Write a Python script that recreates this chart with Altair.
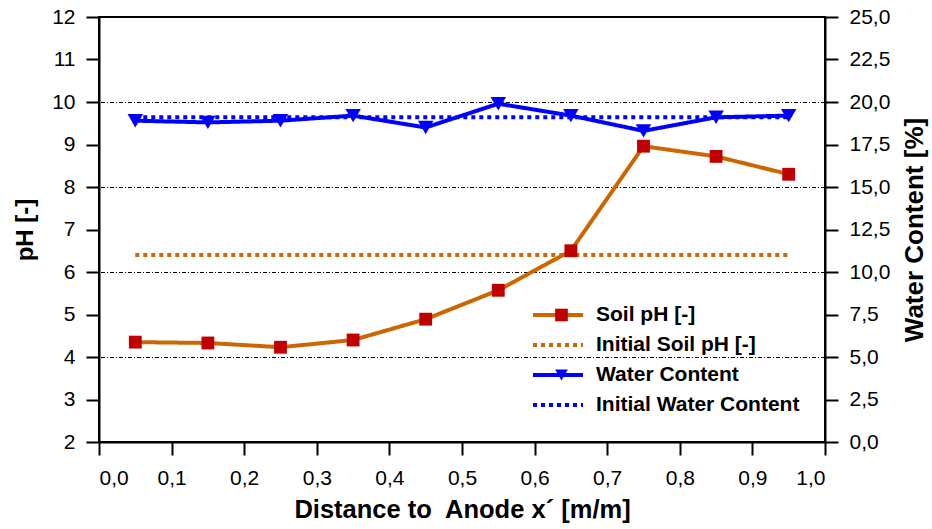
import altair as alt
import pandas as pd

# ---------------- data ----------------
x_pos = [0.05, 0.15, 0.25, 0.35, 0.45, 0.55, 0.65, 0.75, 0.85, 0.95]
soil_ph = [4.35, 4.33, 4.23, 4.40, 4.89, 5.57, 6.50, 8.96, 8.72, 8.30]
water_content = [18.9, 18.8, 18.9, 19.2, 18.5, 19.9, 19.2, 18.3, 19.1, 19.2]
init_x = [0.05, 0.95]
init_ph = [6.4, 6.4]
init_water = [19.1, 19.1]
grid_ph = [4, 6, 8, 10]

series_names = ["Soil pH [-]", "Initial Soil pH [-]", "Water Content", "Initial Water Content"]
marker_keys = ["mk_soil", "mk_init_soil", "mk_water", "mk_init_water"]
line_colors = ["#CC6600", "#CC6600", "#0000FF", "#0000FF"]
line_dashes = [[1, 0], [4, 4], [1, 0], [4, 4]]
marker_colors = ["#C00000", "transparent", "#0000FF", "transparent"]
marker_shapes = ["square", "M0,0", "triangle-down", "M0,0"]

x_ticks = [round(i * 0.1, 1) for i in range(11)]
ph_ticks = list(range(2, 13))
wc_ticks = [i * 2.5 for i in range(11)]

FONT = "Liberation Sans, Arial, Helvetica, sans-serif"

# ---------------- tables ----------------
ph_df = pd.DataFrame({"x": x_pos, "value": soil_ph,
                      "series": series_names[0], "marker": marker_keys[0]})
ph_init_df = pd.DataFrame({"x": init_x, "value": init_ph, "series": series_names[1]})
wc_df = pd.DataFrame({"x": x_pos, "value": water_content,
                      "series": series_names[2], "marker": marker_keys[2]})
wc_init_df = pd.DataFrame({"x": init_x, "value": init_water, "series": series_names[3]})
grid_df = pd.DataFrame({"value": grid_ph})

# ---------------- scales / axes ----------------
x_axis = alt.Axis(values=x_ticks,
                  labelExpr="replace(format(datum.value, '.1f'), '.', ',')",
                  title="Distance to\u00a0 Anode x\u00b4 [m/m]",
                  grid=False, tickSize=13, labelPadding=12, titlePadding=9,
                  labelFontSize=21, titleFontSize=25.5)
x_enc = alt.X("x:Q", scale=alt.Scale(domain=[0, 1], nice=False, zero=False), axis=x_axis)

ph_axis = alt.Axis(values=ph_ticks, format="d", title="pH [-]", orient="left",
                   grid=False, tickSize=13, labelPadding=11, titlePadding=14,
                   labelFontSize=21, titleFontSize=24)
ph_scale = alt.Scale(domain=[2, 12], nice=False, zero=False)

wc_axis = alt.Axis(values=wc_ticks,
                   labelExpr="replace(format(datum.value, '.1f'), '.', ',')",
                   title="Water Content [%]", orient="right",
                   grid=False, tickSize=13, labelPadding=11, titlePadding=12,
                   titleAngle=270, titleBaseline="top",
                   labelFontSize=21, titleFontSize=26)
wc_scale = alt.Scale(domain=[0, 25], nice=False, zero=False)

line_legend = alt.Legend(title=None, orient="none", legendX=432, legendY=283,
                         symbolType="stroke", symbolSize=2500, symbolStrokeWidth=4,
                         labelFontSize=21, labelFontWeight="bold", labelFont=FONT,
                         labelColor="black", labelOffset=11, labelLimit=400,
                         clipHeight=30, rowPadding=0, padding=0)
marker_legend = alt.Legend(title=None, orient="none", legendX=452, legendY=283,
                           symbolSize=160, symbolStrokeWidth=0,
                           labelFontSize=21, labelFont=FONT, labelExpr="''",
                           labelOpacity=0, labelOffset=11, clipHeight=30,
                           rowPadding=0, padding=0)

color_enc = alt.Color("series:N", scale=alt.Scale(domain=series_names, range=line_colors),
                      legend=line_legend)
dash_enc = alt.StrokeDash("series:N", scale=alt.Scale(domain=series_names, range=line_dashes),
                          legend=line_legend)
fill_enc = alt.Fill("marker:N", scale=alt.Scale(domain=marker_keys, range=marker_colors),
                    legend=marker_legend)
shape_enc = alt.Shape("marker:N", scale=alt.Scale(domain=marker_keys, range=marker_shapes),
                      legend=marker_legend)

y_ph = alt.Y("value:Q", scale=ph_scale, axis=ph_axis)
y_wc = alt.Y("value:Q", scale=wc_scale, axis=wc_axis)

# ---------------- layers ----------------
grid = alt.Chart(grid_df).mark_rule(color="black", strokeWidth=1, yOffset=0.5,
                                    strokeDash=[4, 2, 1, 2]).encode(y=y_ph)

ph_init = alt.Chart(ph_init_df).mark_line(strokeWidth=4).encode(
    x=x_enc, y=y_ph, color=color_enc, strokeDash=dash_enc)
ph_line = alt.Chart(ph_df).mark_line(strokeWidth=4).encode(
    x=x_enc, y=y_ph, color=color_enc, strokeDash=dash_enc)
ph_pts = alt.Chart(ph_df).mark_point(filled=True, size=165, opacity=1, strokeWidth=0).encode(
    x=x_enc, y=y_ph, fill=fill_enc, shape=shape_enc)

wc_init = alt.Chart(wc_init_df).mark_line(strokeWidth=4).encode(
    x=x_enc, y=y_wc, color=color_enc, strokeDash=dash_enc)
wc_line = alt.Chart(wc_df).mark_line(strokeWidth=4).encode(
    x=x_enc, y=y_wc, color=color_enc, strokeDash=dash_enc)
wc_pts = alt.Chart(wc_df).mark_point(filled=True, size=240, opacity=1, strokeWidth=0).encode(
    x=x_enc, y=y_wc, fill=fill_enc, shape=shape_enc)

left = alt.layer(grid, ph_init, ph_line, ph_pts)
right = alt.layer(wc_init, wc_line, wc_pts)

chart = alt.layer(left, right).resolve_scale(y="independent").properties(
    width=726, height=425,
    autosize=alt.AutoSizeParams(type="none"),
    padding={"left": 99, "top": 17, "right": 107, "bottom": 87},
    background="white",
).configure_view(
    stroke="black", strokeWidth=2
).configure_axis(
    domainColor="black", domainWidth=2, tickColor="black", tickWidth=2,
    labelColor="black", titleColor="black", labelFont=FONT, titleFont=FONT,
    titleFontWeight="bold", labelFontWeight="normal",
).configure_legend(
    labelFont=FONT
)

chart.save("out.html", embed_options={"renderer": "svg", "actions": False})
